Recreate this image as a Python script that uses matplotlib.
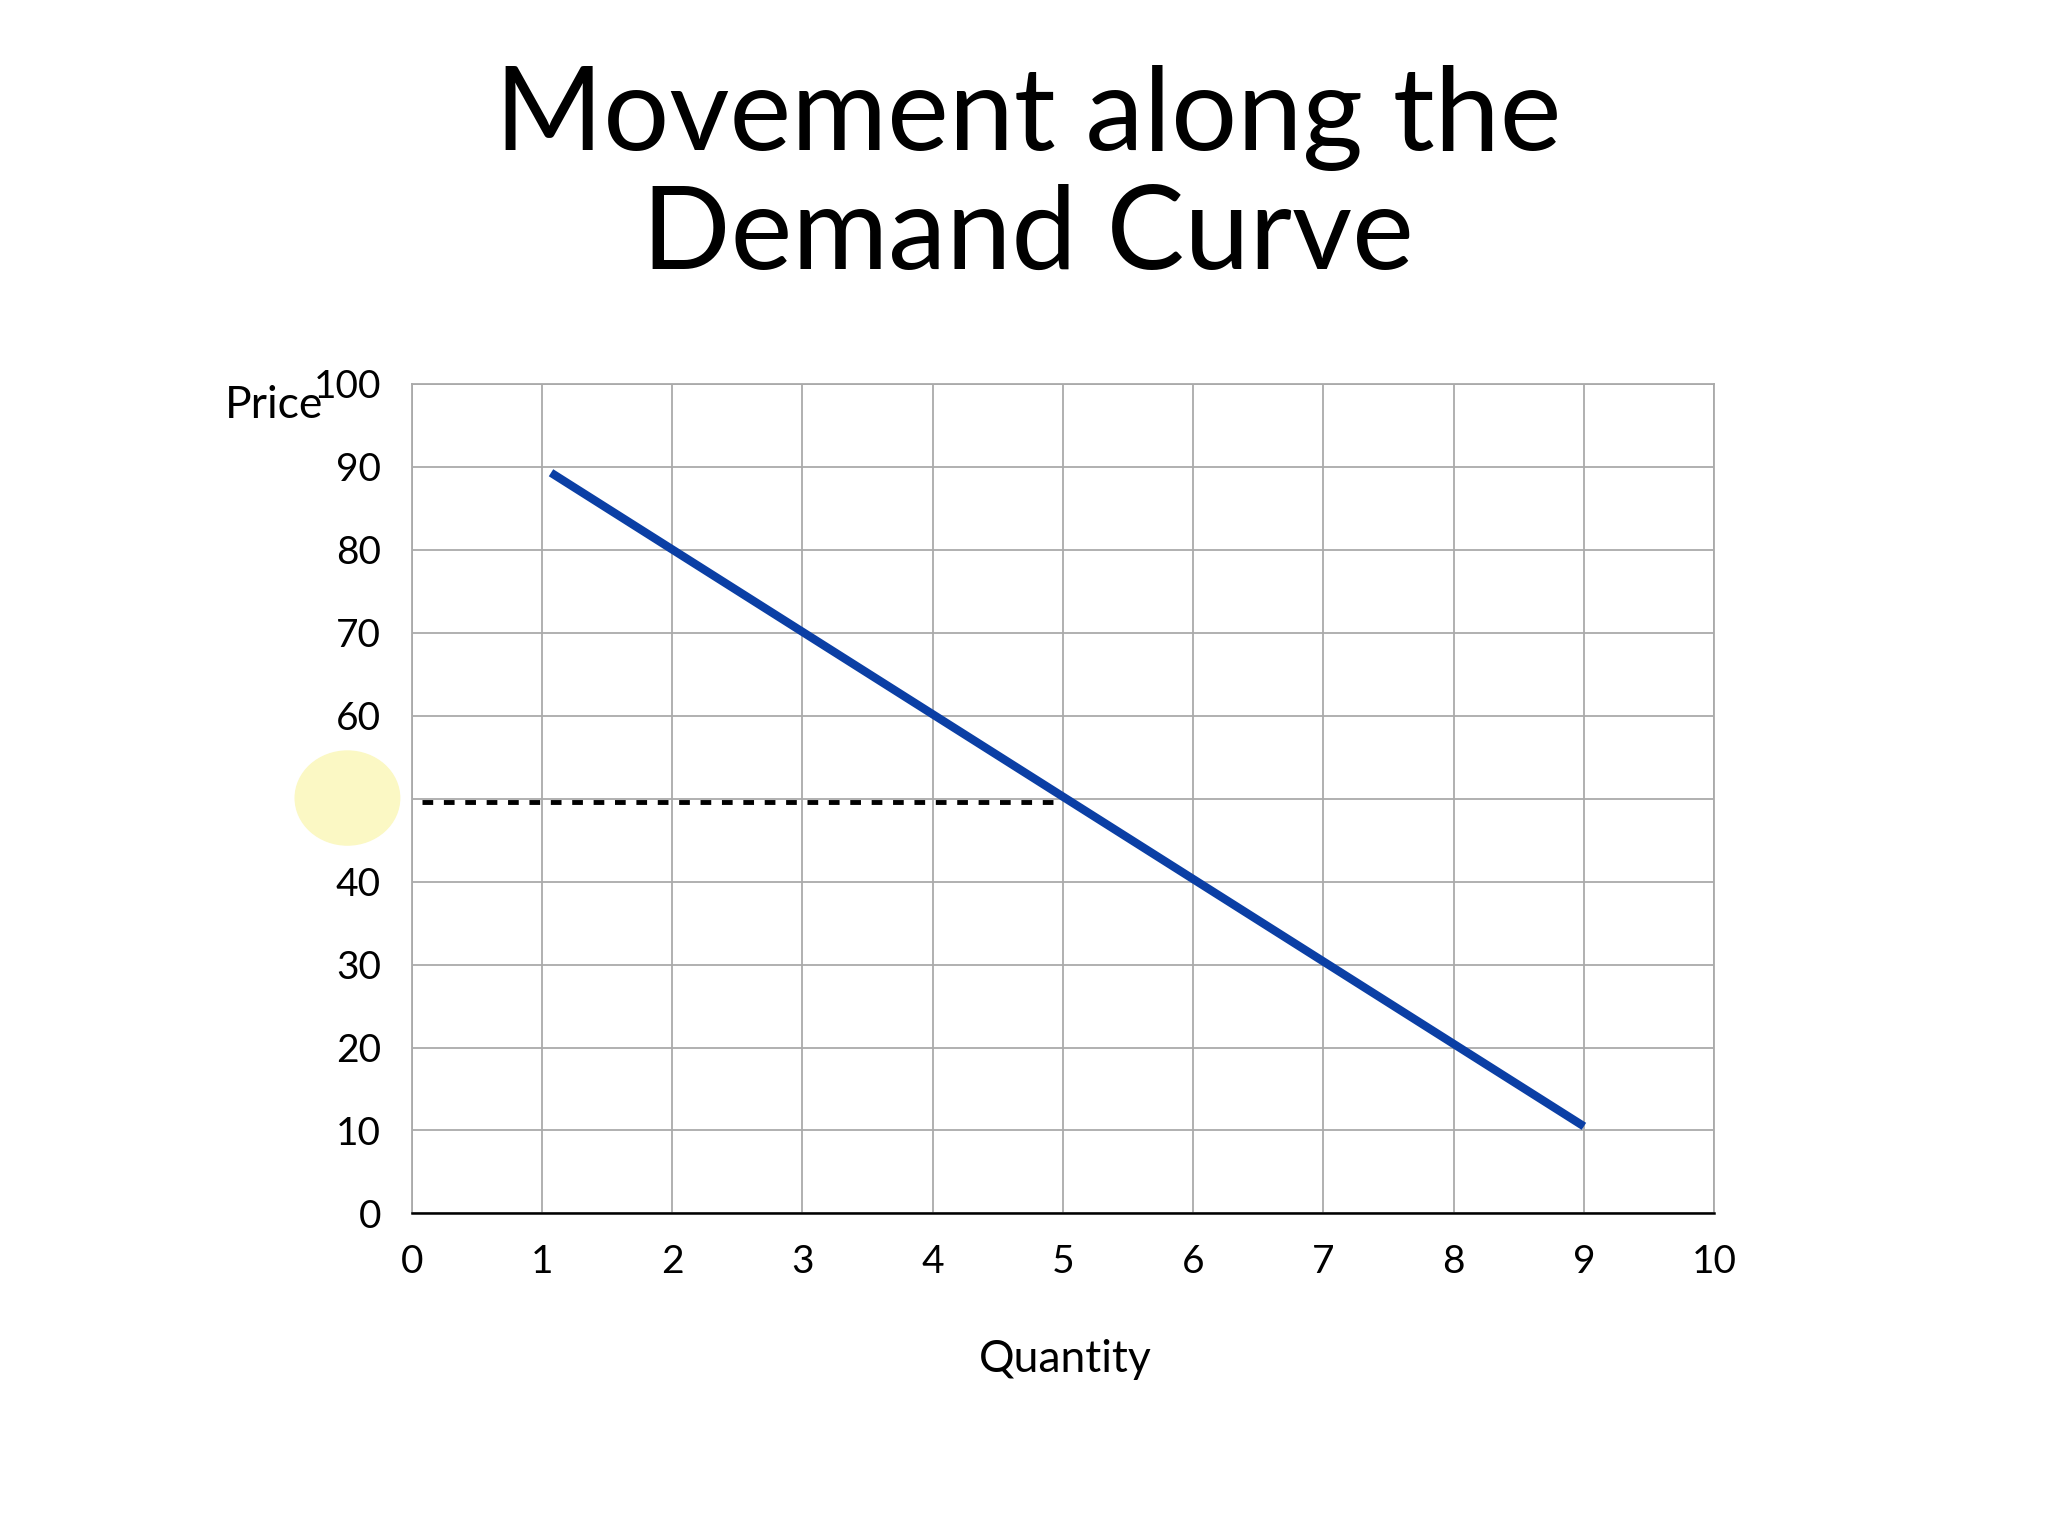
import matplotlib
matplotlib.use("Agg")
import matplotlib.pyplot as plt
from matplotlib.patches import Ellipse

quantity = [1.07, 9.0]
price = [89.3, 10.5]
ref_q = [0.08, 4.95]
ref_p = [49.6, 49.6]
xticks = list(range(0, 11))
yticks = list(range(0, 101, 10))

plt.rcParams['font.family'] = ['Lato', 'DejaVu Sans']
fig = plt.figure(figsize=(20.48, 15.36), dpi=100)
fig.patch.set_facecolor('white')
ax = fig.add_axes([0.201, 0.21, 0.636, 0.54])
ax.set_xlim(0, 10)
ax.set_ylim(0, 100)
ax.set_xticks(xticks)
ax.set_yticks(yticks)
ax.set_xticklabels([str(t) for t in xticks], fontsize=28)
ax.set_yticklabels([str(t) for t in yticks], fontsize=28)
ax.tick_params(length=0, pad=22)
ax.grid(True, color='#aaaaaa', linewidth=1.3)
for s in ['left', 'top', 'right']:
    ax.spines[s].set_color('#aaaaaa')
    ax.spines[s].set_linewidth(1.3)
ax.spines['bottom'].set_color('black')
ax.spines['bottom'].set_linewidth(1.8)
ax.plot(quantity, price, color='#0b3fa5', linewidth=6, solid_capstyle='butt', zorder=5)
ax.plot(ref_q, ref_p, color='black', linewidth=3.5, linestyle=(0, (2.2, 2.2)), zorder=4)

fig.patches.append(Ellipse((266/1568, 1 - 611/1176), 80/1568, 72/1176,
                           transform=fig.transFigure, color='#fbf8c4', zorder=0))

fig.text(0.502, 0.885, 'Movement along the\nDemand Curve', ha='center', va='center',
         fontsize=84, linespacing=1.15)
fig.text(0.134, 0.736, 'Price', ha='center', va='center', fontsize=32)
fig.text(0.52, 0.115, 'Quantity', ha='center', va='center', fontsize=32)
fig.savefig('out.png', dpi=100)
